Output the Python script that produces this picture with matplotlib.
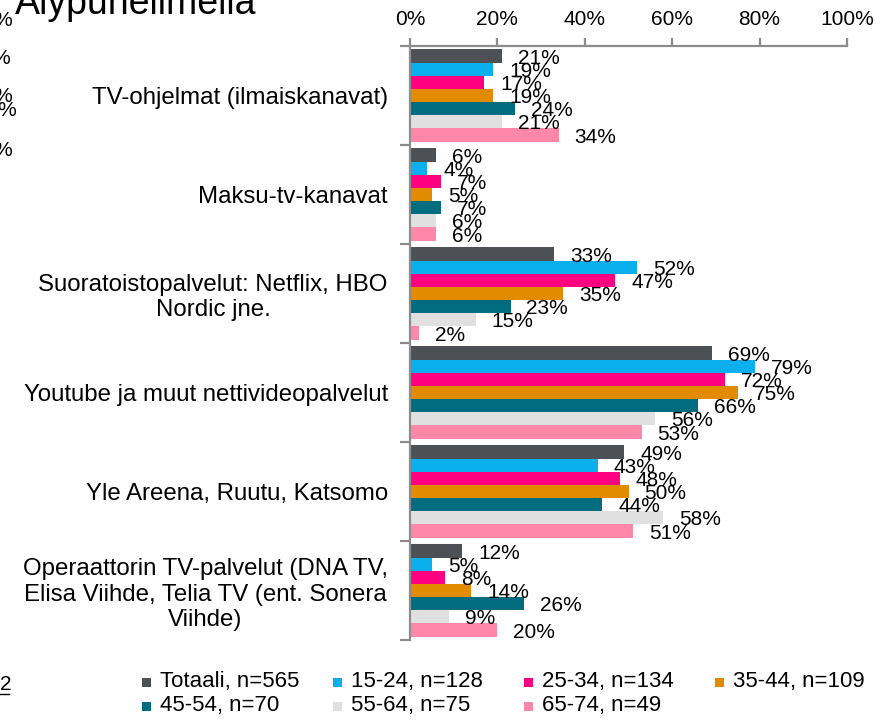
import matplotlib.pyplot as plt
from matplotlib.patches import Rectangle
import numpy as np

plt.rcParams['font.family'] = ['Liberation Sans', 'DejaVu Sans']

# Kategoriat ja sarjat
categories = [
    "TV-ohjelmat (ilmaiskanavat)",
    "Maksu-tv-kanavat",
    "Suoratoistopalvelut: Netflix, HBO\nNordic jne.",
    "Youtube ja muut nettivideopalvelut",
    "Yle Areena, Ruutu, Katsomo",
    "Operaattorin TV-palvelut (DNA TV,\nElisa Viihde, Telia TV (ent. Sonera\nViihde)",
]
series_names = ["Totaali, n=565", "15-24, n=128", "25-34, n=134", "35-44, n=109",
                "45-54, n=70", "55-64, n=75", "65-74, n=49"]
totaali = [21, 6, 33, 69, 49, 12]
age_15_24 = [19, 4, 52, 79, 43, 5]
age_25_34 = [17, 7, 47, 72, 48, 8]
age_35_44 = [19, 5, 35, 75, 50, 14]
age_45_54 = [24, 7, 23, 66, 44, 26]
age_55_64 = [21, 6, 15, 56, 58, 9]
age_65_74 = [34, 6, 2, 53, 51, 20]
series_values = [totaali, age_15_24, age_25_34, age_35_44, age_45_54, age_55_64, age_65_74]
colors = ["#4D5155", "#0BAFEE", "#FF0080", "#E38B00", "#006C7F", "#E0E0E0", "#FF88AA"]
xticks = [0, 20, 40, 60, 80, 100]

W, H = 884, 724
fig = plt.figure(figsize=(W / 100, H / 100), dpi=100)
ax = fig.add_axes([410 / W, 1 - 640 / H, 437 / W, 594 / H])

n_cat = len(categories)
n_ser = len(series_values)
bar_h = 0.93 / n_ser
y = np.arange(n_cat)

for i, (vals, col) in enumerate(zip(series_values, colors)):
    ypos = y - 0.465 + bar_h * (i + 0.5)
    ax.barh(ypos, vals, height=bar_h, color=col, label=series_names[i])
    for yy, v in zip(ypos, vals):
        ax.annotate(f"{v}%", (v, yy), xytext=(11.5, -1.5), textcoords="offset points",
                    ha="left", va="center", fontsize=15, color="black")

ax.set_xlim(0, 100)
ax.set_ylim(n_cat - 0.5, -0.5)

# akselit
for s in ["right", "bottom"]:
    ax.spines[s].set_visible(False)
for s in ["left", "top"]:
    ax.spines[s].set_color("#8C8C8C")
    ax.spines[s].set_linewidth(1.6)

ax.xaxis.tick_top()
ax.set_xticks(xticks)
ax.set_xticklabels([f"{t}%" for t in xticks], fontsize=15)
ax.tick_params(axis="x", direction="out", length=6, width=1.6, color="#8C8C8C", pad=6)

ax.set_yticks(y)
ax.set_yticklabels(categories, fontsize=17.3, multialignment="center")
ax.tick_params(axis="y", which="major", length=0, pad=16)
ax.set_yticks(np.arange(n_cat + 1) - 0.5, minor=True)
ax.tick_params(axis="y", which="minor", direction="out", length=7, width=1.6, color="#8C8C8C")

# otsikko (osittain kuvan ulkopuolella)
fig.text(15 / W, 1 - 14 / H, "Älypuhelimella", fontsize=27, ha="left", va="baseline")

# toisen kaavion leikkautuneet tekstit vasemmassa reunassa
for (px, py) in [(13, 20), (11, 58), (13, 97), (17, 110), (13, 150)]:
    fig.text(px / W, 1 - py / H, "21%", fontsize=15, ha="right", va="center")

fig.text(0 / W, 1 - 684 / H, "2", fontsize=15, ha="left", va="center")
fig.add_artist(plt.Line2D([0, 9 / W], [1 - 694 / H, 1 - 694 / H], color="black", lw=1))

# selite riveittäin, tasaleveät sarakkeet
col_x = [142, 333, 524, 715]
row_y = [682, 706]
for i, (name, col) in enumerate(zip(series_names, colors)):
    cx = col_x[i % 4]
    cy = row_y[i // 4]
    fig.add_artist(Rectangle((cx / W, 1 - (cy + 5) / H), 9 / W, 9 / H,
                             transform=fig.transFigure, facecolor=col, edgecolor="none"))
    fig.text((cx + 18) / W, 1 - cy / H, name, fontsize=16, ha="left", va="center")

fig.savefig("out.png", dpi=100)
